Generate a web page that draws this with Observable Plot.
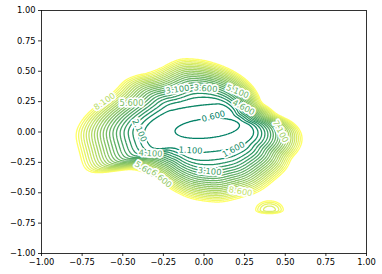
<!DOCTYPE html>
<html><head><meta charset="utf-8">
<script src="https://cdn.jsdelivr.net/npm/d3@7"></script>
<script src="https://cdn.jsdelivr.net/npm/@observablehq/plot@0.6"></script>
<style>body{margin:0;background:#fff}svg{display:block}</style>
</head><body><div id="chart"></div>
<script>
// ---- tick labels / levels ----
const xTicks = [-1, -0.75, -0.5, -0.25, 0, 0.25, 0.5, 0.75, 1];
const yTicks = [-1, -0.75, -0.5, -0.25, 0, 0.25, 0.5, 0.75, 1];
const levels = [0.6, 1.1, 1.6, 2.1, 2.6, 3.1, 3.6, 4.1, 4.6, 5.1, 5.6, 6.1, 6.6, 7.1, 7.6, 8.1, 8.6, 9.1, 9.6, 10.1, 10.6, 11.1];

// ---- outer contour outline (data coords) ----
const outlineX = [0.594, 0.606, 0.582, 0.532, 0.514, 0.428, 0.329, 0.225, 0.10, -0.083, -0.188, -0.286, -0.391, -0.48, -0.60, -0.69, -0.735, -0.76, -0.778, -0.791, -0.778, -0.717, -0.68, -0.618, -0.557, -0.514, -0.495, -0.422, -0.348, -0.268, -0.145, -0.022, 0.10, 0.206, 0.305, 0.35, 0.452, 0.532];
const outlineY = [0.012, -0.07, -0.152, -0.218, -0.292, -0.399, -0.498, -0.539, -0.58, -0.547, -0.481, -0.383, -0.317, -0.29, -0.33, -0.375, -0.30, -0.177, -0.095, -0.012, 0.037, 0.152, 0.193, 0.259, 0.325, 0.383, 0.424, 0.465, 0.481, 0.523, 0.605, 0.595, 0.55, 0.481, 0.366, 0.24, 0.136, 0.095];
const centerXY = [0.02, 0.03];
const baseLevel = 0.5, edgeLevel = 11.1;
const innerK = [2.5, 16];     // basin curvature (along, across)
const innerTilt = 8;          // degrees
const wallStart = 0.43, wallPower = 1.5;
// small island (bottom-right)
const island = {x: 0.403, y: -0.642, hx: 0.085, hyUp: 0.075, hyDown: 0.03, min: 9.25};

// ---- contour labels ----
const labelX = [0.058, -0.083, 0.182, -0.397, 0.034, -0.163, 0.009, -0.612, -0.446, 0.206, 0.243, 0.471, -0.329, -0.36, -0.262, 0.225];
const labelY = [0.128, -0.152, -0.144, 0.012, -0.325, 0.35, 0.358, 0.251, 0.235, 0.333, 0.202, 0.004, -0.177, -0.309, -0.383, -0.49];
const labelText = ["0.600", "1.100", "1.600", "2.100", "3.100", "3.100", "3.600", "8.100", "5.600", "5.100", "4.600", "7.100", "4.100", "5.600", "6.600", "8.600"];
const labelAngle = [-15, 3, -28, 65, 5, -8, 4, -35, 0, 22, 28, 62, 3, 32, 40, 10];

// ---- field built from the outline ----
const D2R = Math.PI / 180;
const cT = Math.cos(innerTilt * D2R), sT = Math.sin(innerTilt * D2R);
function innerTerm(dx, dy) {
  const u = dx * cT + dy * sT, v = -dx * sT + dy * cT;
  return innerK[0] * u * u + innerK[1] * v * v;
}
const polar = outlineX.map((x, i) => {
  const dx = x - centerXY[0], dy = outlineY[i] - centerXY[1];
  return {a: Math.atan2(dy, dx), r: Math.hypot(dx, dy),
          rem: Math.max(edgeLevel - baseLevel - innerTerm(dx, dy), 1.5)};
}).sort((p, q) => p.a - q.a);
function rawAt(a) {
  const n = polar.length;
  let i = 0; while (i < n && polar[i].a < a) i++;
  const p1 = polar[(i - 1 + n) % n], p2 = polar[i % n];
  let a1 = p1.a, a2 = p2.a;
  if (i === 0) a1 -= 2 * Math.PI;
  if (i === n) a2 += 2 * Math.PI;
  const t = (a - a1) / (a2 - a1);
  return [p1.r + t * (p2.r - p1.r), p1.rem + t * (p2.rem - p1.rem)];
}
const NT = 720;
const rawR = [], rawM = [];
for (let k = 0; k < NT; k++) { const v = rawAt(-Math.PI + 2 * Math.PI * k / NT); rawR.push(v[0]); rawM.push(v[1]); }
const tabR = [], tabM = [];
{ const sig = 6; // samples (3 deg)
  for (let k = 0; k < NT; k++) {
    let sw = 0, sr = 0, sm = 0;
    for (let j = -20; j <= 20; j++) { const w = Math.exp(-j * j / (2 * sig * sig)); const idx = (k + j + NT) % NT; sw += w; sr += w * rawR[idx]; sm += w * rawM[idx]; }
    tabR.push(sr / sw); tabM.push(sm / sw);
  } }
function lookup(a) {
  const f = (a + Math.PI) / (2 * Math.PI) * NT;
  const k0 = Math.floor(f), t = f - k0;
  const i0 = ((k0 % NT) + NT) % NT, i1 = (i0 + 1) % NT;
  return [tabR[i0] + t * (tabR[i1] - tabR[i0]), tabM[i0] + t * (tabM[i1] - tabM[i0])];
}
function bump(b, x, y) {
  const dx = (x - b.x) / b.hx, dy = (y - b.y) / (y > b.y ? b.hyUp : b.hyDown);
  return b.min + (edgeLevel - b.min) * (dx * dx + dy * dy);
}
function field(x, y) {
  const dx = x - centerXY[0], dy = y - centerXY[1];
  const [R, rem] = lookup(Math.atan2(dy, dx));
  const s = Math.hypot(dx, dy) / R;
  const g = s > wallStart ? Math.pow((s - wallStart) / (1 - wallStart), wallPower) : 0;
  const zm = baseLevel + innerTerm(dx, dy) + rem * g;
  const zi = bump(island, x, y);
  const m = Math.min(zm, zi);
  return m - Math.log(Math.exp(m - zm) + Math.exp(m - zi));
}

// contours are traced on the negated field so that rings close inside the frame
const labels = labelText.map((t, i) => ({x: labelX[i], y: labelY[i], t, r: labelAngle[i], level: -t}));
const fmt = d => (d < 0 ? "\u2212" : "") + Math.abs(d).toFixed(2);

const chart = Plot.plot({
  width: 382, height: 274,
  marginLeft: 41, marginRight: 16, marginTop: 10, marginBottom: 21,
  style: {fontFamily: "DejaVu Sans", fontSize: "8.33px", color: "black", background: "white"},
  x: {domain: [-1, 1]},
  y: {domain: [-1, 1]},
  color: {type: "linear", domain: [-levels[levels.length - 1], -levels[0]], range: ["#ffff66", "#008066"], interpolate: "rgb"},
  marks: [
    Plot.contour({value: (x, y) => -field(x, y), x1: -1, y1: -1, x2: 1, y2: 1, pixelSize: 1, thresholds: levels.map(l => -l).reverse(), stroke: "value", fill: "none", strokeWidth: 1.3}),
    Plot.text(labels, {x: "x", y: "y", text: "t", rotate: "r", fill: "level", stroke: "white", strokeWidth: 3.5, paintOrder: "stroke", fontSize: 8.33, fontFamily: "DejaVu Sans"}),
    Plot.frame({stroke: "black", strokeWidth: 0.8}),
    Plot.axisX({ticks: xTicks, tickFormat: fmt, tickSize: 3, tickPadding: 3, strokeWidth: 0.8, label: null, fontSize: 8.33}),
    Plot.axisY({ticks: yTicks, tickFormat: fmt, tickSize: 3, tickPadding: 3, strokeWidth: 0.8, label: null, fontSize: 8.33})
  ]
});
document.getElementById("chart").appendChild(chart);
</script>
</body></html>
